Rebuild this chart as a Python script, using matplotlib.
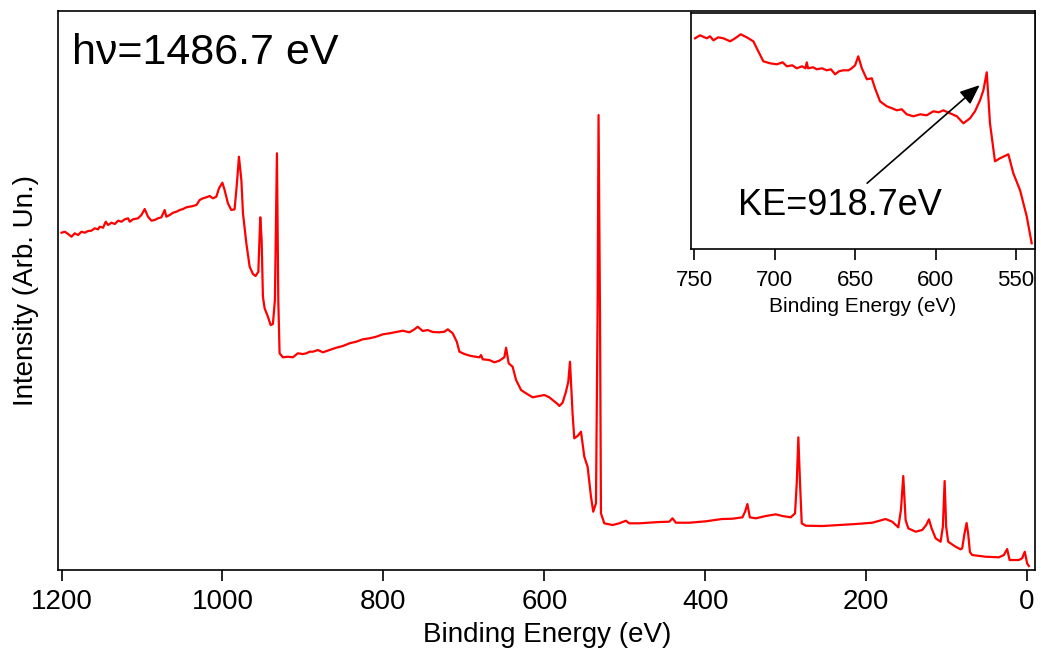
import matplotlib
matplotlib.use("Agg")
import matplotlib.pyplot as plt

plt.rcParams['font.family'] = ['Liberation Sans', 'DejaVu Sans']

# survey spectrum (binding energy in eV, intensity arb.)
survey_be = [1200.0, 1195.9, 1191.8, 1187.6, 1183.5, 1179.4, 1175.2, 1171.1, 1167.0, 1162.8,
             1158.7, 1154.6, 1152.5, 1148.4, 1145.0, 1142.1, 1137.9, 1133.8, 1129.7, 1125.5,
             1121.4, 1117.3, 1115.2, 1111.1, 1104.9, 1100.7, 1096.6, 1092.5, 1088.3, 1084.2,
             1080.1, 1075.9, 1071.8, 1069.7, 1065.5, 1061.4, 1057.2, 1053.1, 1049.0, 1044.8,
             1040.7, 1036.6, 1032.4, 1028.3, 1024.2, 1020.0, 1015.9, 1011.8, 1007.6, 1004.3,
             1000.1, 997.3, 993.2, 989.0, 984.9, 982.0, 979.5, 976.5, 974.5, 970.3,
             966.2, 962.1, 958.8, 955.4, 953.0, 951.3, 949.7, 947.6, 943.5, 940.1,
             937.3, 934.8, 932.3, 930.6, 929.0, 924.9, 918.7, 912.5, 906.3, 900.1,
             895.8, 891.7, 887.6, 881.4, 875.2, 866.9, 858.6, 850.4, 842.1, 833.8,
             825.6, 817.3, 808.9, 800.7, 792.4, 784.1, 775.9, 767.6, 761.4, 757.3,
             751.1, 744.9, 738.7, 730.4, 724.1, 720.0, 713.8, 708.8, 705.5, 699.3,
             691.0, 680.7, 678.6, 676.6, 668.3, 662.1, 655.9, 649.7, 647.5, 644.3,
             639.4, 635.1, 628.9, 622.7, 614.5, 606.2, 600.0, 593.8, 589.7, 583.5,
             581.4, 577.3, 573.1, 570.2, 568.1, 566.5, 564.9, 562.8, 558.7, 554.4,
             550.3, 546.2, 542.0, 539.2, 535.8, 533.8, 532.6, 530.8, 529.6, 525.5,
             515.2, 506.9, 498.6, 494.5, 482.1, 469.6, 457.2, 444.8, 440.7, 436.5,
             420.0, 399.3, 379.4, 366.2, 353.8, 350.5, 347.6, 344.6, 337.2, 324.8,
             312.4, 304.2, 293.7, 288.4, 286.3, 284.3, 282.2, 280.1, 275.1, 254.5,
             233.8, 213.0, 192.4, 175.8, 167.6, 160.1, 156.8, 153.9, 151.0, 147.7,
             138.5, 130.4, 125.4, 122.0, 118.7, 113.7, 107.5, 104.7, 102.5, 100.6,
             98.1, 88.9, 82.7, 80.7, 77.7, 75.2, 73.2, 71.1, 68.3, 51.6,
             35.1, 28.9, 24.8, 21.8, 10.3, 6.2, 2.9, 0.0, -2.1]
survey_int = [337.3, 338.3, 336.0, 333.3, 336.7, 335.0, 338.3, 337.3, 339.0, 339.3,
              341.7, 340.7, 343.3, 342.3, 348.3, 345.0, 347.3, 346.0, 349.3, 348.3,
              350.7, 351.7, 348.3, 350.7, 351.7, 355.0, 361.0, 353.3, 349.3, 350.0,
              351.7, 352.7, 360.0, 353.3, 355.0, 357.3, 358.3, 360.0, 361.0, 362.7,
              363.3, 364.0, 365.0, 370.0, 371.7, 372.7, 374.0, 371.7, 373.3, 381.7,
              387.3, 380.0, 366.7, 360.0, 360.7, 386.7, 413.3, 390.0, 356.7, 326.7,
              303.3, 296.0, 294.0, 298.3, 352.7, 330.0, 273.3, 261.7, 253.3, 245.0,
              246.0, 270.0, 416.7, 270.0, 216.7, 212.7, 213.3, 212.7, 216.7, 216.0,
              216.7, 218.3, 218.3, 220.0, 217.7, 220.0, 222.3, 224.0, 226.7, 228.3,
              230.7, 231.7, 233.3, 235.7, 236.7, 238.0, 239.3, 237.7, 240.7, 243.3,
              239.0, 240.0, 238.0, 237.7, 238.3, 240.7, 236.7, 228.3, 218.3, 216.0,
              214.0, 212.7, 215.0, 210.7, 210.0, 207.7, 209.3, 212.7, 222.3, 206.7,
              203.3, 190.0, 180.0, 176.7, 172.7, 174.0, 175.0, 172.7, 170.0, 166.0,
              164.0, 167.3, 178.3, 188.3, 208.3, 183.3, 156.7, 131.7, 134.0, 138.3,
              113.3, 103.3, 73.3, 58.3, 66.7, 256.7, 455.0, 256.7, 56.7, 46.7,
              45.0, 46.7, 49.3, 46.7, 46.7, 47.3, 48.0, 48.3, 51.7, 47.3,
              47.3, 48.7, 51.0, 51.3, 52.7, 58.3, 66.0, 52.7, 51.7, 54.0,
              55.7, 54.0, 52.7, 56.7, 86.7, 132.7, 86.7, 46.7, 44.3, 44.0,
              45.0, 46.0, 47.3, 51.0, 48.3, 42.7, 60.0, 94.0, 50.0, 41.7,
              38.3, 40.0, 45.0, 50.7, 41.7, 31.7, 28.3, 43.3, 89.0, 43.3,
              28.3, 23.3, 20.7, 21.7, 37.0, 47.0, 36.0, 18.0, 15.0, 13.3,
              12.7, 15.0, 21.0, 10.0, 10.0, 11.7, 18.3, 6.7, 4.0]

# zoomed region around the KE=918.7 eV feature (inset)
inset_be = [749.4, 746.3, 742.1, 740.1, 738.0, 735.0, 731.8, 727.6, 724.5, 721.0,
            717.3, 713.2, 710.1, 707.0, 702.8, 698.6, 695.0, 692.4, 689.0, 686.2,
            683.0, 680.8, 680.0, 679.2, 676.0, 673.8, 670.5, 667.6, 665.0, 662.4,
            660.0, 657.3, 654.0, 652.1, 650.0, 648.0, 645.8, 642.7, 639.6, 637.6,
            634.5, 630.3, 627.0, 624.1, 621.0, 617.9, 613.8, 609.5, 605.5, 601.4,
            598.0, 595.2, 591.0, 586.8, 582.7, 578.6, 575.5, 572.4, 570.3, 568.2,
            566.2, 563.1, 560.0, 554.8, 551.7, 547.5, 543.4, 540.3]
inset_int = [211, 214, 211, 213, 209, 212, 211, 208, 211, 215,
             212, 208, 198, 188, 186, 185, 187, 183, 184, 181,
             183, 181, 187, 181, 182, 180, 181, 179, 180, 175,
             178, 179, 179, 181, 184, 193, 181, 170, 171, 161,
             148, 143, 141, 139, 140, 135, 133, 135, 134, 138,
             137, 139, 136, 133, 126, 131, 138, 149, 159, 177,
             126, 88, 91, 95, 76, 59, 33, 6]

fig = plt.figure(figsize=(10.41, 6.55), dpi=100)

ax = fig.add_axes([0.056, 0.1305, 0.9387, 0.8527])
ax.plot(survey_be, survey_int, color='#ff0000', lw=1.6)
ax.set_xlim(1204, -10.4)
ax.set_ylim(0.5, 559)
ax.set_xticks([1200, 1000, 800, 600, 400, 200, 0])
ax.set_yticks([])
ax.tick_params(axis='x', direction='out', length=8, width=1.2, labelsize=20, pad=6)
ax.set_xlabel('Binding Energy (eV)', fontsize=20, labelpad=5)
ax.set_ylabel('Intensity (Arb. Un.)', fontsize=20, labelpad=14)
for sp in ax.spines.values():
    sp.set_linewidth(1.2)
ax.text(0.0137, 0.906, 'h\u03bd=1486.7 eV', transform=ax.transAxes,
        fontsize=31, va='baseline', ha='left')

# inset
axi = fig.add_axes([0.6638, 0.6194, 0.3305, 0.3612])
axi.plot(inset_be, inset_int, color='#ff0000', lw=1.6)
axi.set_xlim(751.9, 538.2)
axi.set_ylim(0, 236.6)
axi.set_xticks([750, 700, 650, 600, 550])
axi.set_yticks([])
axi.tick_params(axis='x', direction='out', length=8, width=1.2, labelsize=16, pad=7)
axi.set_xlabel('Binding Energy (eV)', fontsize=15, labelpad=4)
for sp in axi.spines.values():
    sp.set_linewidth(1.2)
axi.annotate('', xy=(571.3, 166), xytext=(643.8, 64.3),
             arrowprops=dict(arrowstyle='-|>,head_length=1.2,head_width=0.5',
                             color='black', lw=1.2))
axi.text(659.3, 43.3, 'KE=918.7eV', fontsize=26, ha='center', va='center')

fig.savefig('out.png', dpi=100)
